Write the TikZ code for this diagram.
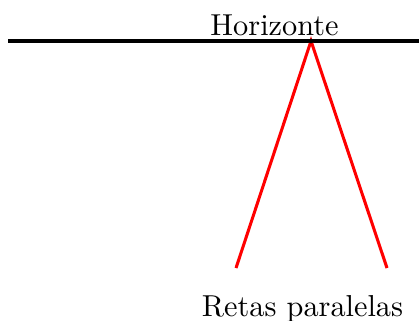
\documentclass[tikz,border=0pt]{standalone}
\begin{document}
\begin{tikzpicture}[x=0.33pt,y=-0.33pt,
  horizon/.style={line width=1pt,black},
  parallel/.style={line width=1pt,red},
  lbl/.style={anchor=base,inner sep=0pt,font=\normalsize}]
\useasboundingbox (0,0) rectangle (419,320);
\coordinate (hl) at (8,41);
\coordinate (hr) at (425,41);
\coordinate (vp) at (311,41);
\coordinate (a) at (236,268);
\coordinate (b) at (387,268);
\draw[horizon] (hl) -- (hr);
\draw[parallel] (a) -- (vp) -- (b);
\fill (vp) circle (0.8pt);
\node[lbl] (ht) at (274.5,35) {Horizonte};
\node[lbl] (rt) at (302.5,316.5) {Retas paralelas};
\end{tikzpicture}
\end{document}
